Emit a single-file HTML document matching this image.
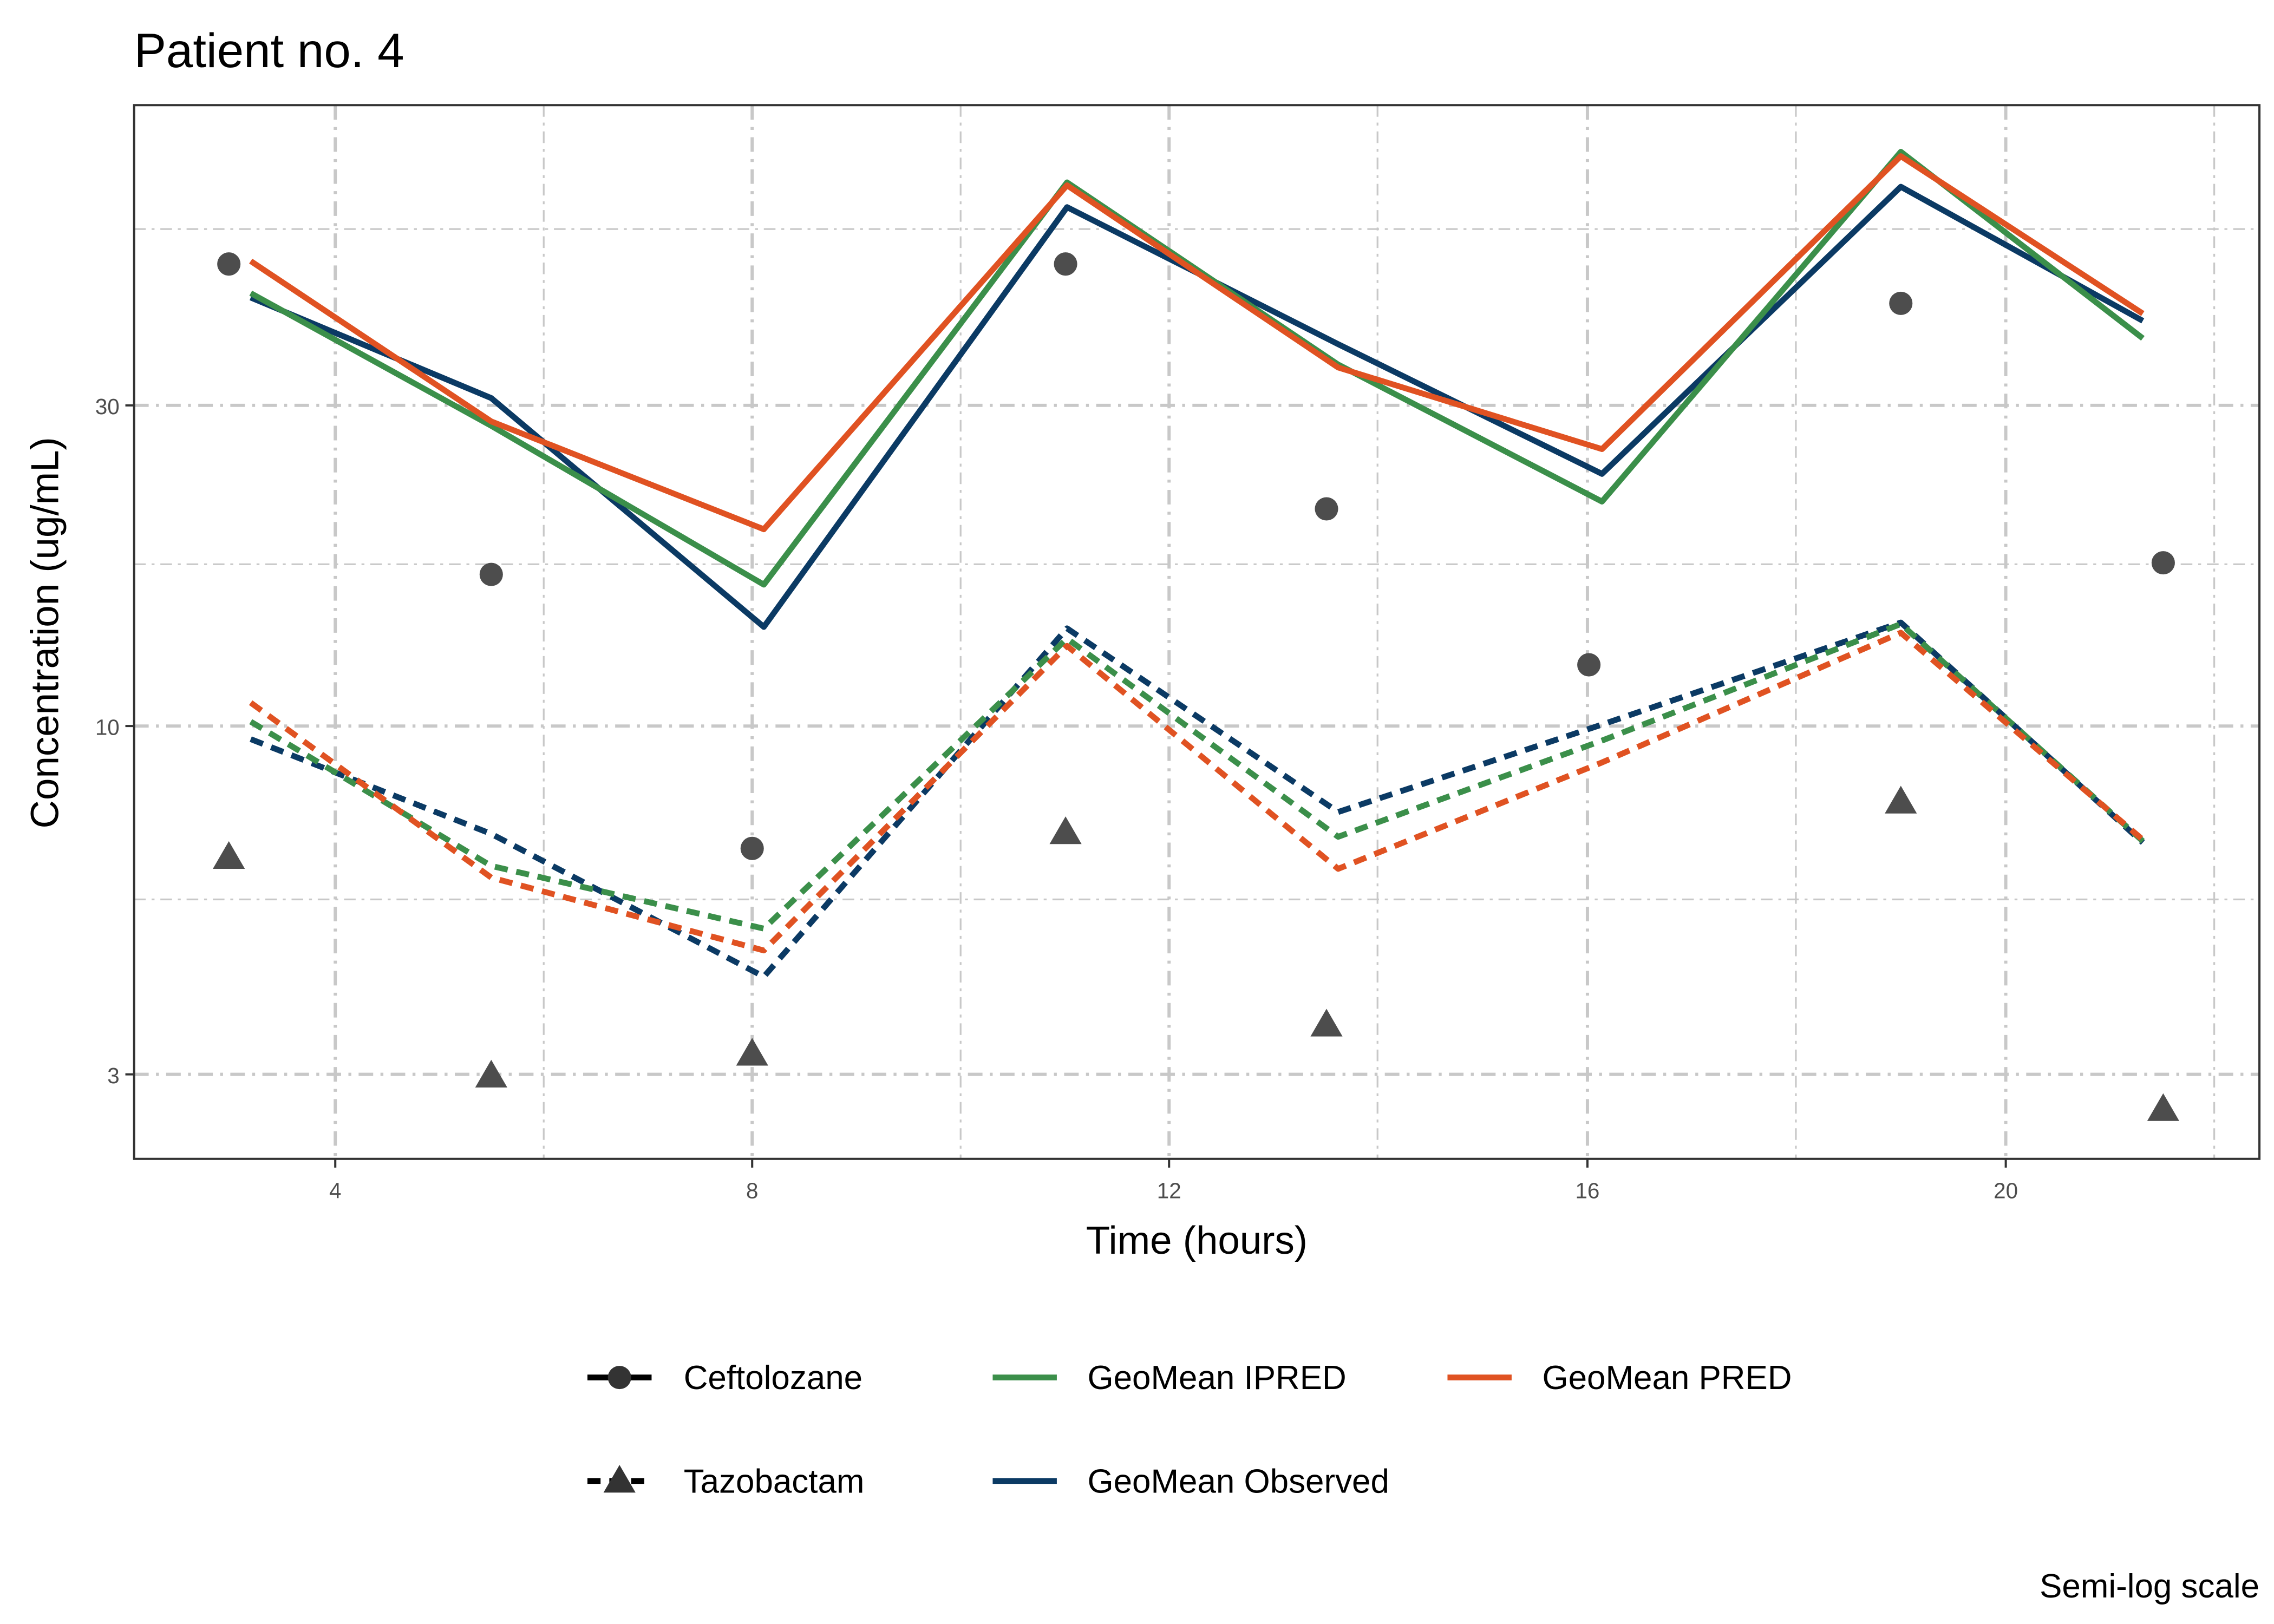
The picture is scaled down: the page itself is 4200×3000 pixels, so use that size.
<!DOCTYPE html>
<html><head><meta charset="utf-8"><style>html,body{margin:0;padding:0;background:#fff}svg{display:block}</style></head>
<body>
<svg width="4200" height="3000" viewBox="0 0 1560 1114" xmlns="http://www.w3.org/2000/svg" font-family="Liberation Sans, Arial, sans-serif">
<rect width="1560" height="1114" fill="#fff"/>
<text x="92" y="46" font-size="33" fill="#000">Patient no. 4</text>
<g stroke="#c8c8c8" stroke-width="1.2" stroke-dasharray="8,4,2,4" fill="none">
<line x1="92" x2="1550" y1="157" y2="157"/><line x1="92" x2="1550" y1="387" y2="387"/><line x1="92" x2="1550" y1="617" y2="617"/>
<line x1="373" x2="373" y1="72" y2="795"/><line x1="659" x2="659" y1="72" y2="795"/><line x1="945" x2="945" y1="72" y2="795"/><line x1="1232" x2="1232" y1="72" y2="795"/><line x1="1519" x2="1519" y1="72" y2="795"/>
</g>
<g stroke="#c8c8c8" stroke-width="2.2" stroke-dasharray="10,5,2,5" fill="none">
<line x1="92" x2="1550" y1="278" y2="278"/><line x1="92" x2="1550" y1="498" y2="498"/><line x1="92" x2="1550" y1="737" y2="737"/>
<line x1="230" x2="230" y1="72" y2="795"/><line x1="516" x2="516" y1="72" y2="795"/><line x1="802" x2="802" y1="72" y2="795"/><line x1="1089" x2="1089" y1="72" y2="795"/><line x1="1376" x2="1376" y1="72" y2="795"/>
</g>
<g fill="none" stroke-width="4" stroke-linejoin="round">
<polyline stroke="#0b3a64" points="172,204 337,273 524,430 732,142 918,236 1099,325 1304,128 1470,220"/>
<polyline stroke="#3b8f4a" points="172,201 337,292 524,401 732,125 918,250 1099,344 1304,104 1470,232"/>
<polyline stroke="#e05222" points="172,179 337,289 524,363 732,127 918,252 1099,308 1304,107 1470,215"/>
<g stroke-dasharray="9,6">
<polyline stroke="#0b3a64" points="172,507 337,572 524,670 732,431 918,557 1099,497 1304,427 1470,578"/>
<polyline stroke="#3b8f4a" points="172,495 337,594 524,637 732,438 918,574 1099,508 1304,428 1470,577"/>
<polyline stroke="#e05222" points="172,482 337,602 524,652 732,443 918,596 1099,523 1304,434 1470,576"/>
</g></g>
<g fill="#4d4d4d">
<circle cx="157" cy="181" r="8"/><circle cx="337" cy="394" r="8"/><circle cx="516" cy="582" r="8"/><circle cx="731" cy="181" r="8"/><circle cx="910" cy="349" r="8"/><circle cx="1090" cy="456" r="8"/><circle cx="1304" cy="208" r="8"/><circle cx="1484" cy="386" r="8"/>
<path d="M157,577 l11,19 h-22z M337,727 l11,19 h-22z M516,712 l11,19 h-22z M731,560 l11,19 h-22z M910,692 l11,19 h-22z M1304,539 l11,19 h-22z M1484,750 l11,19 h-22z"/>
</g>
<rect x="92" y="72" width="1458" height="723" fill="none" stroke="#333" stroke-width="1.5"/>
<g stroke="#333" stroke-width="1.5"><line x1="86" x2="92" y1="278" y2="278"/><line x1="86" x2="92" y1="498" y2="498"/><line x1="86" x2="92" y1="737" y2="737"/>
<line x1="230" x2="230" y1="795" y2="801"/><line x1="516" x2="516" y1="795" y2="801"/><line x1="802" x2="802" y1="795" y2="801"/><line x1="1089" x2="1089" y1="795" y2="801"/><line x1="1376" x2="1376" y1="795" y2="801"/></g>
<g font-size="15" fill="#4d4d4d" text-anchor="end"><text x="82" y="284">30</text><text x="82" y="504">10</text><text x="82" y="743">3</text></g>
<g font-size="15" fill="#4d4d4d" text-anchor="middle"><text x="230" y="822">4</text><text x="516" y="822">8</text><text x="802" y="822">12</text><text x="1089" y="822">16</text><text x="1376" y="822">20</text></g>
<text x="821" y="860" font-size="27" text-anchor="middle">Time (hours)</text>
<text transform="translate(40,434) rotate(-90)" font-size="27" text-anchor="middle">Concentration (ug/mL)</text>
<g font-size="23" fill="#000">
<line x1="403" x2="447" y1="945" y2="945" stroke="#000" stroke-width="4"/><circle cx="425" cy="945" r="8" fill="#333"/><text x="469" y="953">Ceftolozane</text>
<line x1="403" x2="447" y1="1016" y2="1016" stroke="#000" stroke-width="4" stroke-dasharray="9,6"/><path d="M425,1005 l11,19 h-22z" fill="#333"/><text x="469" y="1024">Tazobactam</text>
<line x1="681" x2="725" y1="945" y2="945" stroke="#3b8f4a" stroke-width="4"/><text x="746" y="953">GeoMean IPRED</text>
<line x1="681" x2="725" y1="1016" y2="1016" stroke="#0b3a64" stroke-width="4"/><text x="746" y="1024">GeoMean Observed</text>
<line x1="993" x2="1037" y1="945" y2="945" stroke="#e05222" stroke-width="4"/><text x="1058" y="953">GeoMean PRED</text>
</g>
<text x="1550" y="1096" font-size="23" text-anchor="end">Semi-log scale</text>
</svg>
</body></html>
